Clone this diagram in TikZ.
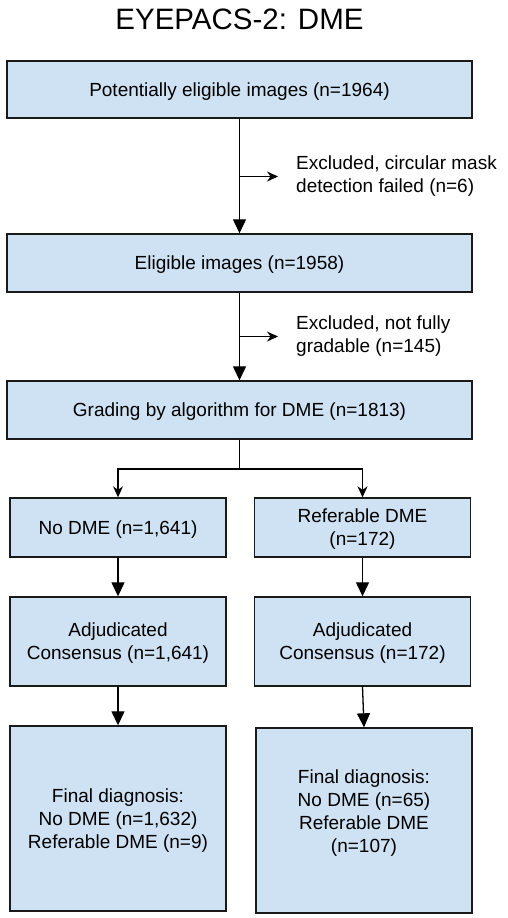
\documentclass[tikz,border=0pt]{standalone}
\usepackage{fontspec}
\setmainfont{Liberation Sans}
\usetikzlibrary{arrows.meta,positioning}
\definecolor{boxfill}{HTML}{CFE2F3}
\definecolor{boxline}{HTML}{1A1A1A}

\begin{document}
\begin{tikzpicture}[x=1pt, y=-1pt, >={Triangle[length=14pt,width=13pt]},
  font=\fontsize{19}{23}\selectfont,
  flow/.style={draw=boxline, fill=boxfill, line width=1.4pt, align=center, inner sep=2pt, text depth=0pt},
  wide/.style={flow, minimum width=465pt, minimum height=57pt},
  half/.style={flow, minimum width=216pt},
  excl/.style={align=left, anchor=west, inner xsep=18pt, inner ysep=0pt},
  split/.style={-{Stealth[length=11pt,width=10pt]}, line width=1.3pt},
  line/.style={line width=1.3pt}]
\useasboundingbox (0,0) rectangle (507,918);
\node[font=\fontsize{29.5}{34}\selectfont] (title) at (239.5,19) {EYEPACS-2: DME};

\node[wide] (pot) at (239.5,89.5) {Potentially eligible images (n=1964)};
\node[wide, minimum height=58pt] (elig) at (239.5,263) {Eligible images (n=1958)};
\node[wide, minimum height=58pt] (grade) at (239.5,410) {Grading by algorithm for DME (n=1813)};

\node[excl] (ex1) at (278,176.5) {Excluded, circular mask\\detection failed (n=6)};
\node[excl] (ex2) at (278,336.5) {Excluded, not fully\\gradable (n=145)};

% two branches
\node[half, minimum height=59pt] (nodme) at (118,527.5) {No DME (n=1,641)};
\node[half, minimum height=59pt] (refdme) at (362.5,527.5) {Referable DME\\(n=172)};
\node[half, minimum height=89pt] (adjl) at (118,641.5) {Adjudicated\\Consensus (n=1,641)};
\node[half, minimum height=89pt] (adjr) at (362.5,641.5) {Adjudicated\\Consensus (n=172)};
\node[half, minimum height=185pt] (finl) at (118,818.5) {Final diagnosis:\\No DME (n=1,632)\\Referable DME (n=9)};
\node[half, minimum height=185pt] (finr) at (364,820.5) {Final diagnosis:\\No DME (n=65)\\Referable DME\\(n=107)\\[-5pt]\mbox{}};

\draw[->, line] (pot) -- (elig);
\draw[->, line] (elig) -- (grade);
\draw[split] (pot.south |- ex1.west) -- (ex1.west);
\draw[split] (elig.south |- ex2.west) -- (ex2.west);

\coordinate (fork) at (239.5,469);
\draw[line] (grade) -- (fork);
\draw[split] (fork) -| (nodme.north);
\draw[split] (fork) -| (refdme.north);

\draw[->, line] (nodme) -- (adjl);
\draw[->, line] (refdme) -- (adjr);
\draw[->, line] (adjl) -- (finl);
\draw[->, line] (adjr.south) -- (finr.north);
\end{tikzpicture}
\end{document}
